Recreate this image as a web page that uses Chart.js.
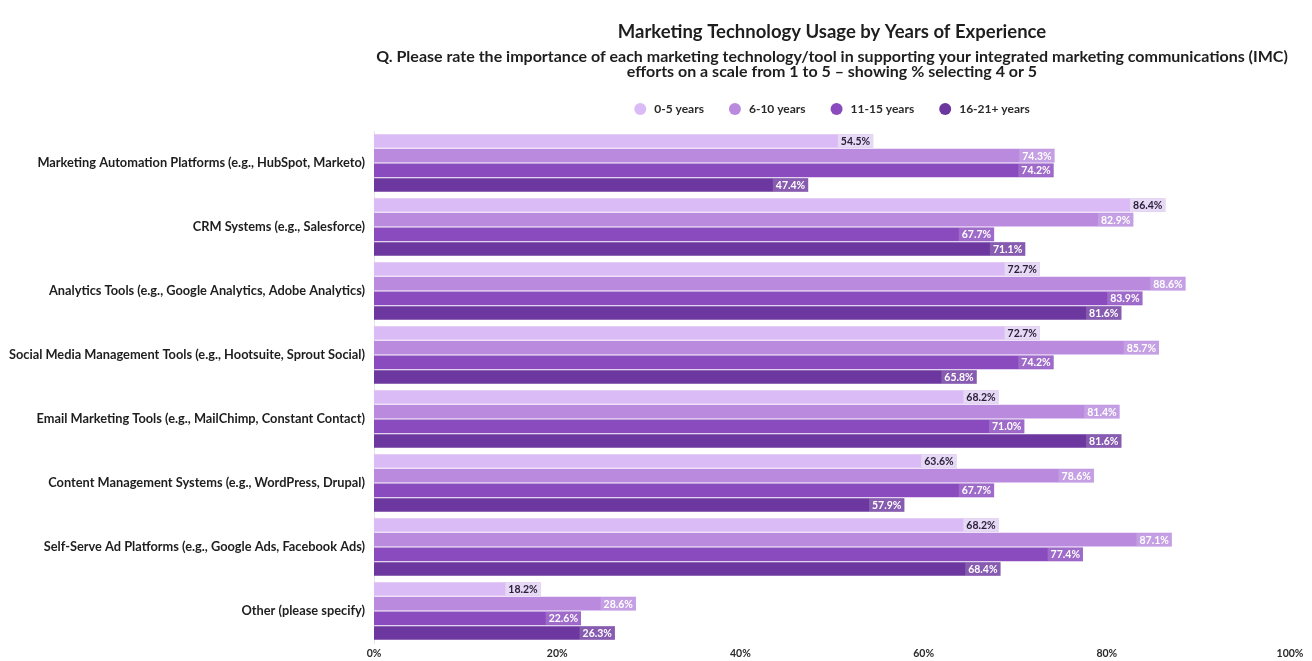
<!DOCTYPE html>
<html>
<head>
<meta charset="utf-8">
<script src="https://cdn.jsdelivr.net/npm/chart.js@4.4.1/dist/chart.umd.min.js"></script>
<style>
  html, body { margin: 0; padding: 0; background: #ffffff; }
  #wrap { width: 1312px; height: 661px; position: relative; }
</style>
</head>
<body>
<div id="wrap"><canvas id="chart" width="1312" height="661"></canvas></div>
<script>
// Survey categories (tools)
const categories = [
  "Marketing Automation Platforms (e.g., HubSpot, Marketo)",
  "CRM Systems (e.g., Salesforce)",
  "Analytics Tools (e.g., Google Analytics, Adobe Analytics)",
  "Social Media Management Tools (e.g., Hootsuite, Sprout Social)",
  "Email Marketing Tools (e.g., MailChimp, Constant Contact)",
  "Content Management Systems (e.g., WordPress, Drupal)",
  "Self-Serve Ad Platforms (e.g., Google Ads, Facebook Ads)",
  "Other (please specify)"
];

// % selecting 4 or 5, per experience group
const years0to5   = [54.5, 86.4, 72.7, 72.7, 68.2, 63.6, 68.2, 18.2];
const years6to10  = [74.3, 82.9, 88.6, 85.7, 81.4, 78.6, 87.1, 28.6];
const years11to15 = [74.2, 67.7, 83.9, 74.2, 71.0, 67.7, 77.4, 22.6];
const years16to21 = [47.4, 71.1, 81.6, 65.8, 81.6, 57.9, 68.4, 26.3];

const seriesNames = ["0-5 years", "6-10 years", "11-15 years", "16-21+ years"];
const seriesColors = ["#dbbbf5", "#b98ade", "#8a4bbf", "#6c389f"];
const labelText = ["#2a1c3c", "#ffffff", "#ffffff", "#ffffff"];

const xTicks = [0, 20, 40, 60, 80, 100];

const titleText = "Marketing Technology Usage by Years of Experience";
const subtitleLines = [
  "Q. Please rate the importance of each marketing technology/tool in supporting your integrated marketing communications (IMC)",
  "efforts on a scale from 1 to 5 \u2013 showing % selecting 4 or 5"
];

const FONT = "Lato, 'Open Sans', 'DejaVu Sans', sans-serif";

// Title, subtitle and legend drawn above the plot area, centred on it
const headerPlugin = {
  id: 'header',
  afterDraw(chart) {
    const ctx = chart.ctx;
    const area = chart.chartArea;
    const cx = (area.left + area.right) / 2;
    ctx.save();
    ctx.fillStyle = '#1e1e1e';
    ctx.textAlign = 'center';
    ctx.textBaseline = 'middle';
    ctx.font = "bold 18.5px " + FONT;
    ctx.fillText(titleText, cx, 32);
    ctx.font = "bold 16px " + FONT;
    ctx.fillText(subtitleLines[0], cx, 57);
    ctx.fillText(subtitleLines[1], cx, 72);

    // legend
    ctx.font = "bold 12px " + FONT;
    const gap = 25, dotW = 20;
    const widths = seriesNames.map(n => dotW + ctx.measureText(n).width);
    const total = widths.reduce((a, b) => a + b, 0) + gap * (seriesNames.length - 1);
    let x = cx - total / 2;
    const y = 109;
    ctx.textAlign = 'left';
    seriesNames.forEach((n, i) => {
      ctx.beginPath();
      ctx.arc(x + 6, y, 6, 0, Math.PI * 2);
      ctx.fillStyle = seriesColors[i];
      ctx.fill();
      ctx.fillStyle = '#2a2a2a';
      ctx.fillText(n, x + dotW, y + 0.5);
      x += widths[i] + gap;
    });
    ctx.restore();
  }
};

// Value labels placed inside the end of each bar
const valueLabelPlugin = {
  id: 'valueLabels',
  afterDatasetsDraw(chart) {
    const ctx = chart.ctx;
    ctx.save();
    ctx.font = "bold 10.5px " + FONT;
    ctx.textBaseline = 'middle';
    ctx.textAlign = 'right';
    chart.data.datasets.forEach((ds, di) => {
      const meta = chart.getDatasetMeta(di);
      meta.data.forEach((bar, i) => {
        const txt = ds.data[i].toFixed(1) + '%';
        const w = ctx.measureText(txt).width + 6;
        const h = 13;
        const xr = bar.x;
        ctx.fillStyle = di === 0 ? 'rgba(232,222,242,0.85)' : 'rgba(255,255,255,0.18)';
        ctx.fillRect(xr - w, bar.y - h / 2, w, h);
        ctx.fillStyle = labelText[di];
        ctx.fillText(txt, xr - 3, bar.y + 0.5);
      });
    });
    ctx.restore();
  }
};

const datasets = [years0to5, years6to10, years11to15, years16to21].map((vals, i) => ({
  label: seriesNames[i],
  data: vals,
  backgroundColor: seriesColors[i],
  borderWidth: 0,
  barPercentage: 0.92,
  categoryPercentage: 0.92
}));

new Chart(document.getElementById('chart'), {
  type: 'bar',
  data: { labels: categories, datasets },
  options: {
    indexAxis: 'y',
    responsive: false,
    animation: false,
    devicePixelRatio: 1,
    layout: { padding: { top: 131, right: 22, bottom: 0, left: 0 } },
    plugins: {
      legend: { display: false },
      title: { display: false },
      tooltip: { enabled: false }
    },
    scales: {
      x: {
        min: 0,
        max: 100,
        afterBuildTicks(scale) { scale.ticks = xTicks.map(v => ({ value: v })); },
        ticks: {
          callback: v => v + '%',
          color: '#2a2a2a',
          font: { family: FONT, size: 10.5, weight: 'bold' },
          padding: 4,
          maxRotation: 0
        },
        grid: { display: false, drawTicks: false },
        border: { display: false },
        afterFit(scale) { scale.height = 18; }
      },
      y: {
        ticks: {
          color: '#1e1e1e',
          font: { family: FONT, size: 12.8, weight: 'bold' },
          padding: 9
        },
        grid: { display: false, drawTicks: false },
        border: { display: true, color: '#e4e4e4' },
        afterFit(scale) { scale.width = 374; }
      }
    }
  },
  plugins: [headerPlugin, valueLabelPlugin]
});
</script>
</body>
</html>
